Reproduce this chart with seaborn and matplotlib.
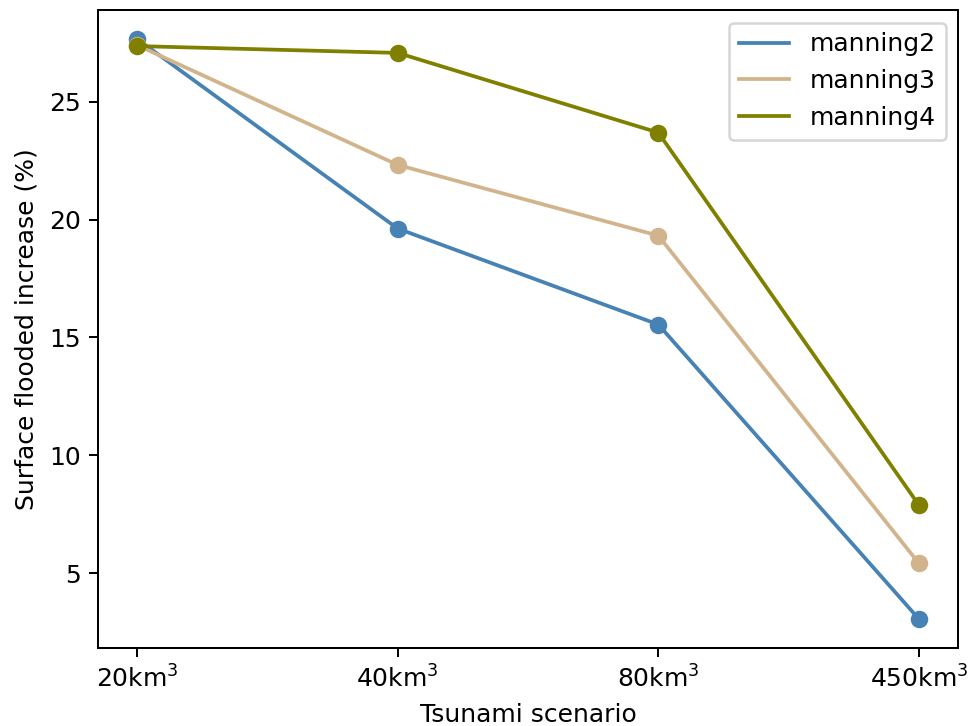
import matplotlib
matplotlib.use("Agg")
import matplotlib.pyplot as plt
from matplotlib.lines import Line2D
import seaborn as sns
import pandas as pd

scenarios = ["20km$^3$", "40km$^3$", "80km$^3$", "450km$^3$"]
manning2 = [27.66, 19.62, 15.55, 3.06]
manning3 = [27.40, 22.32, 19.32, 5.42]
manning4 = [27.36, 27.07, 23.69, 7.89]
series_names = ["manning2", "manning3", "manning4"]
colors = ["steelblue", "tan", "olive"]

rows = []
for name, vals in zip(series_names, [manning2, manning3, manning4]):
    for i, v in enumerate(vals):
        rows.append({"pos": i, "value": v, "series": name})
df = pd.DataFrame(rows)

fig, ax = plt.subplots(figsize=(969 / 180, 726 / 180), dpi=180)
fig.subplots_adjust(left=98 / 969, right=958 / 969, top=1 - 10 / 726, bottom=1 - 648 / 726)
sns.lineplot(data=df, x="pos", y="value", hue="series", palette=colors,
             marker="o", markersize=7, markeredgewidth=0, linewidth=1.5, ax=ax)
ax.set_xticks(range(len(scenarios)))
ax.set_xticklabels(scenarios)
ax.set_xlabel("Tsunami scenario")
ax.set_ylabel("Surface flooded increase (%)")
handles = [Line2D([0], [0], color=c, lw=1.5) for c in colors]
ax.legend(handles, series_names, loc="upper right")
fig.savefig("out.png", dpi=180)
